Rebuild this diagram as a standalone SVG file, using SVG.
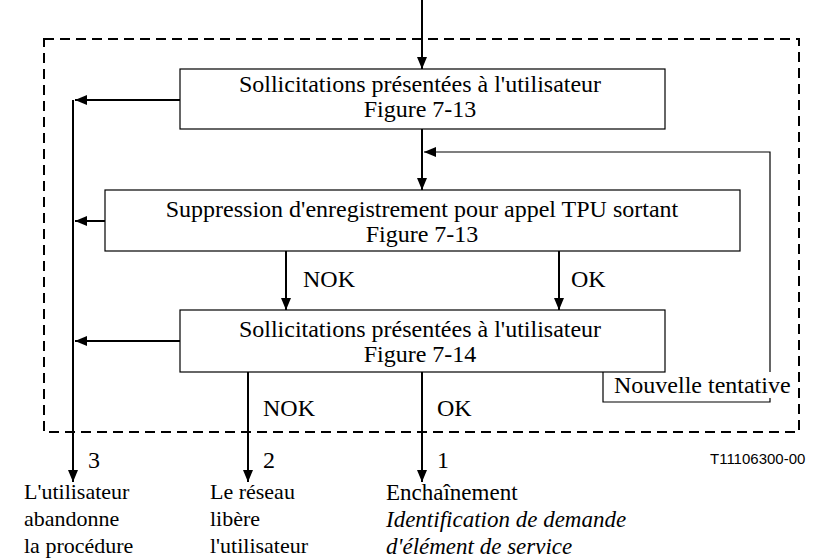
<svg xmlns="http://www.w3.org/2000/svg" width="814" height="560" viewBox="0 0 814 560">
  <style>
    text { font-family: 'Liberation Serif', 'DejaVu Serif', serif; font-size: 24px; fill: #000; }
    .c { text-anchor: middle; }
    .it { font-style: italic; }
    .s22 { font-size: 22px; }
    .s23 { font-size: 23px; }
    .ref { font-family: 'Liberation Sans', 'DejaVu Sans', sans-serif; font-size: 15px; }
    .box { fill: #fff; stroke: #000; stroke-width: 1.2; }
    .flow { fill: none; stroke: #000; stroke-width: 2; }
    .thin { fill: none; stroke: #000; stroke-width: 1.2; }
    .frame { fill: none; stroke: #000; stroke-width: 2; stroke-dasharray: 10 6; }
  </style>
  <defs>
    <marker id="ah" viewBox="0 0 12 10" refX="12" refY="5" markerWidth="12" markerHeight="10" markerUnits="userSpaceOnUse" orient="auto">
      <path d="M0,0 L12,5 L0,10 Z" fill="#000"/>
    </marker>
  </defs>

  <!-- dashed boundary -->
  <rect class="frame" x="44" y="39" width="755" height="393"/>

  <g id="connectors">
    <line class="flow" x1="422" y1="0" x2="422" y2="69" marker-end="url(#ah)"/>
    <line class="flow" x1="180" y1="100" x2="75" y2="100" marker-end="url(#ah)"/>
    <line class="flow" x1="73" y1="100" x2="73" y2="482" marker-end="url(#ah)"/>
    <line class="flow" x1="422" y1="129" x2="422" y2="190" marker-end="url(#ah)"/>
    <!-- retry loop: label box, then back up into the flow -->
    <polyline class="thin" points="603,372 603,402 770,402 770,152 424,152" marker-end="url(#ah)"/>
    <rect x="612" y="372" width="178" height="26" fill="#fff"/>
    <text x="614" y="393">Nouvelle tentative</text>
    <line class="flow" x1="105" y1="221" x2="75" y2="221" marker-end="url(#ah)"/>
    <line class="flow" x1="286" y1="251" x2="286" y2="310" marker-end="url(#ah)"/>
    <line class="flow" x1="559" y1="251" x2="559" y2="310" marker-end="url(#ah)"/>
    <line class="flow" x1="180" y1="341" x2="75" y2="341" marker-end="url(#ah)"/>
    <line class="flow" x1="248" y1="372" x2="248" y2="482" marker-end="url(#ah)"/>
    <line class="flow" x1="422" y1="372" x2="422" y2="482" marker-end="url(#ah)"/>
    <text x="303" y="287">NOK</text>
    <text x="571" y="287">OK</text>
    <text x="263" y="416">NOK</text>
    <text x="437" y="416">OK</text>
    <text x="88" y="468">3</text>
    <text x="263" y="468">2</text>
    <text x="437" y="468">1</text>
  </g>

  <g id="n1">
    <rect class="box" x="180" y="69" width="485" height="60"/>
    <text class="c" x="420" y="92">Sollicitations présentées à l'utilisateur</text>
    <text class="c" x="420" y="117">Figure 7-13</text>
  </g>

  <g id="n2">
    <rect class="box" x="105" y="190" width="635" height="61"/>
    <text class="c" x="422" y="217">Suppression d'enregistrement pour appel TPU sortant</text>
    <text class="c" x="422" y="242">Figure 7-13</text>
  </g>

  <g id="n3">
    <rect class="box" x="180" y="310" width="485" height="62"/>
    <text class="c" x="420" y="337">Sollicitations présentées à l'utilisateur</text>
    <text class="c" x="420" y="362">Figure 7-14</text>
  </g>

  <g id="out3" class="s22">
    <text class="s22" x="24" y="499">L'utilisateur</text>
    <text class="s22" x="24" y="526">abandonne</text>
    <text class="s22" x="24" y="553">la procédure</text>
  </g>

  <g id="out2">
    <text class="s22" x="210" y="499">Le réseau</text>
    <text class="s22" x="210" y="526">libère</text>
    <text class="s22" x="210" y="553">l'utilisateur</text>
  </g>

  <g id="out1">
    <text class="s23" x="386" y="500">Enchaînement</text>
    <text class="s23 it" x="386" y="527">Identification de demande</text>
    <text class="s23 it" x="386" y="554">d'élément de service</text>
  </g>

  <text class="ref" x="710" y="464">T11106300-00</text>
</svg>
